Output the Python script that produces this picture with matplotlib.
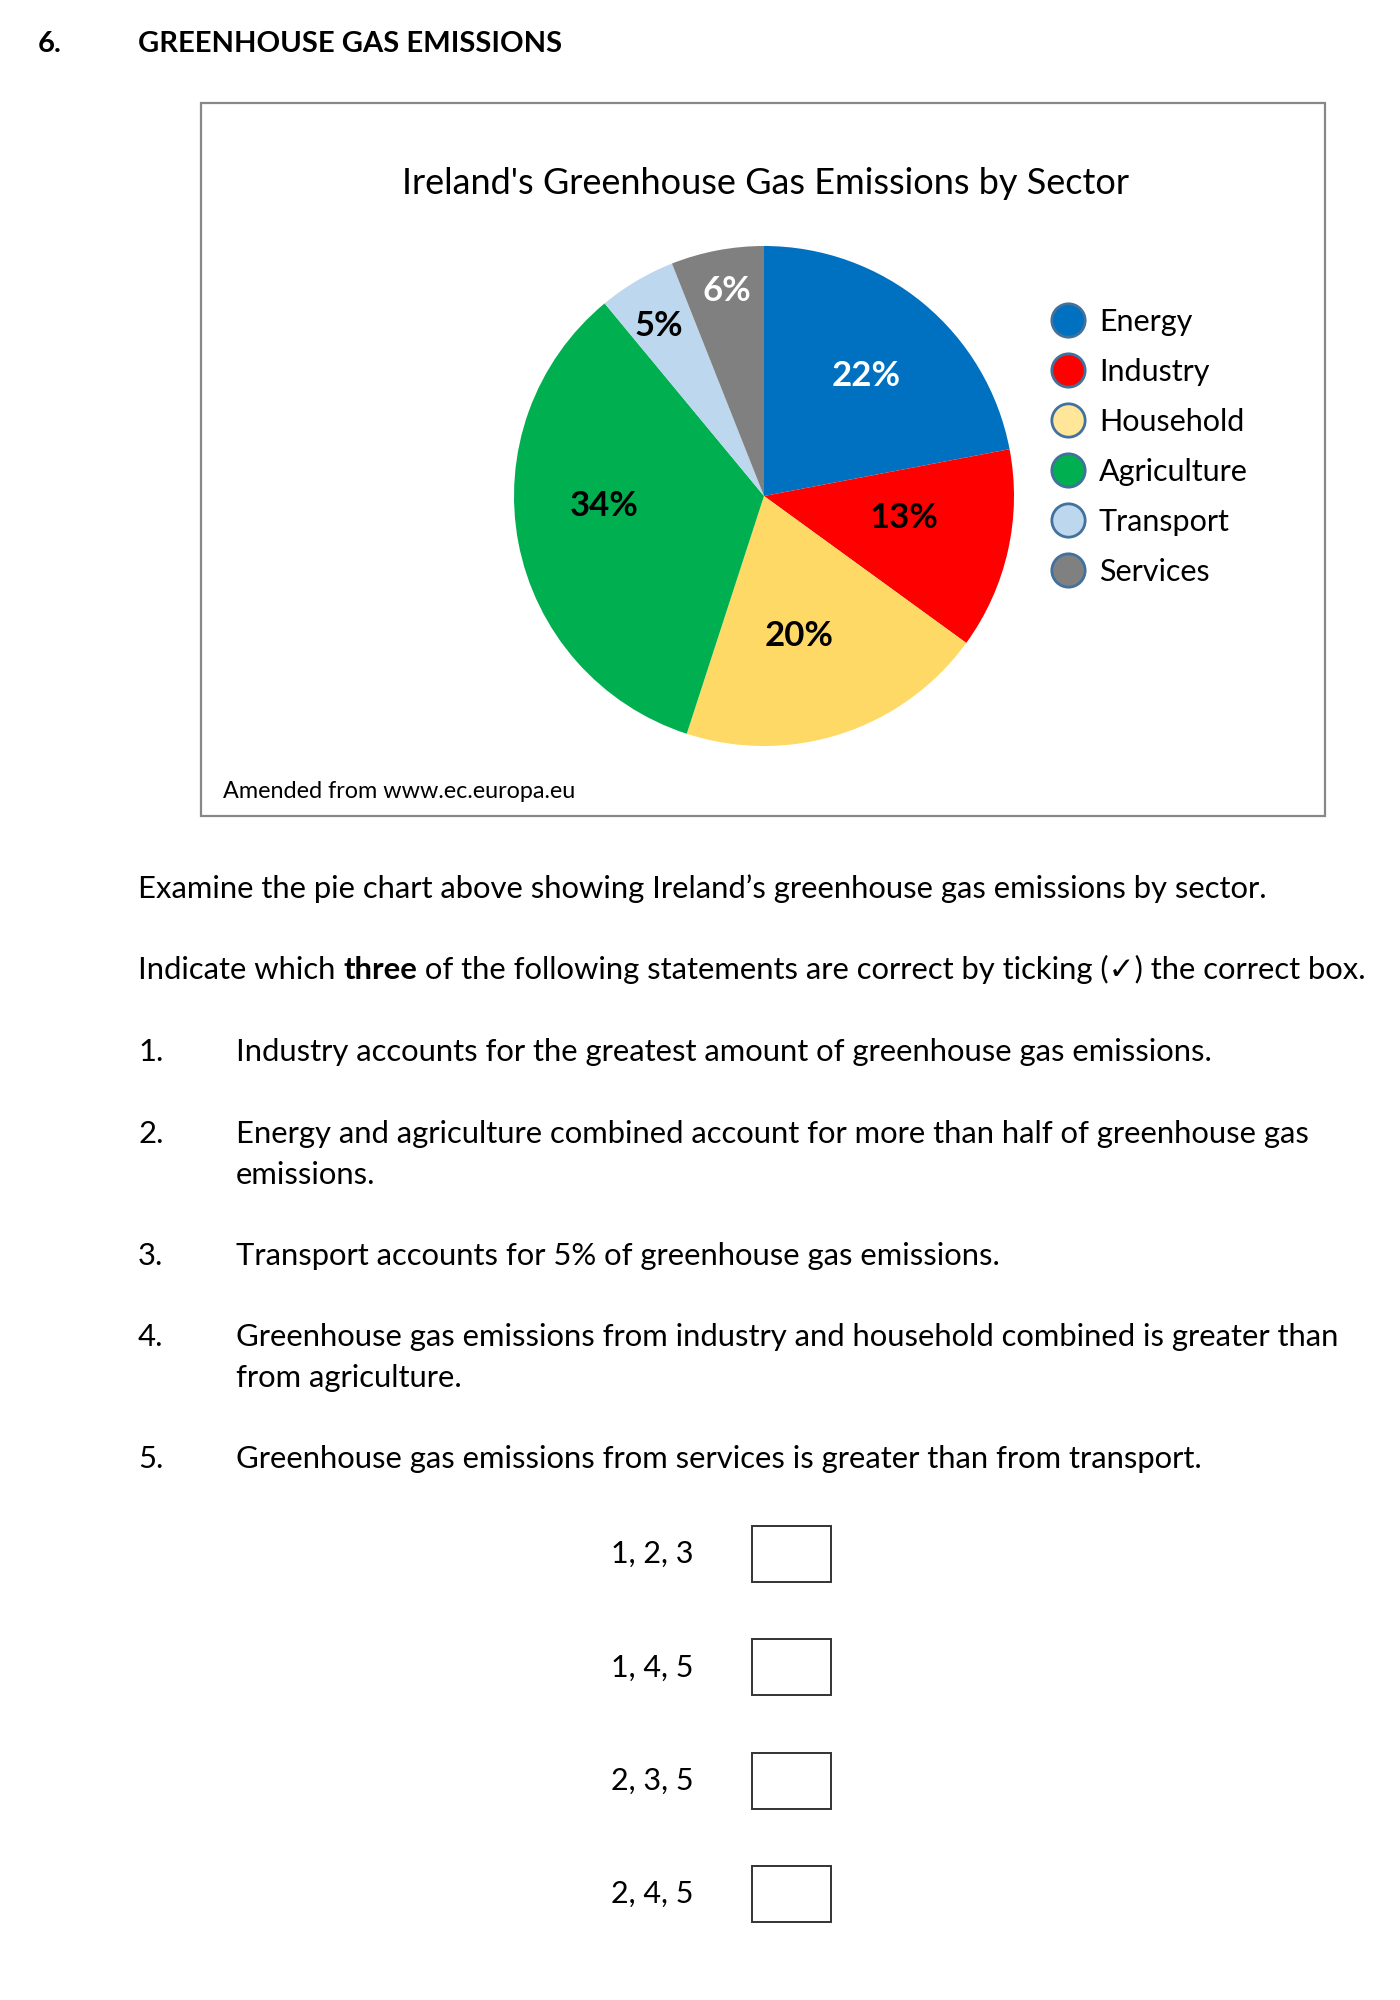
import matplotlib
matplotlib.use("Agg")
import matplotlib.pyplot as plt
from matplotlib.patches import Rectangle
from matplotlib.lines import Line2D

plt.rcParams['font.family'] = ['Lato', 'DejaVu Sans']

# Datos del grafico
sectores = ["Energy", "Industry", "Household", "Agriculture", "Transport", "Services"]
porcentajes = [22, 13, 20, 34, 5, 6]
colores = ["#0070C0", "#FF0000", "#FFD966", "#00B050", "#BDD7EE", "#808080"]
colores_leyenda = ["#0070C0", "#FF0000", "#FFE699", "#00B050", "#BDD7EE", "#808080"]
color_etiqueta = ["white", "black", "black", "black", "black", "white"]
# posicion de cada etiqueta dentro del pie (coordenadas del eje)
pos_etiqueta = [(0.41, 0.48), (0.56, -0.09), (0.14, -0.56), (-0.64, -0.04), (-0.42, 0.68), (-0.15, 0.82)]

enunciados = [
    ("1.", ["Industry accounts for the greatest amount of greenhouse gas emissions."]),
    ("2.", ["Energy and agriculture combined account for more than half of greenhouse gas", "emissions."]),
    ("3.", ["Transport accounts for 5% of greenhouse gas emissions."]),
    ("4.", ["Greenhouse gas emissions from industry and household combined is greater than", "from agriculture."]),
    ("5.", ["Greenhouse gas emissions from services is greater than from transport."]),
]
opciones = ["1, 2, 3", "1, 4, 5", "2, 3, 5", "2, 4, 5"]

W, H = 1400, 2000
fig = plt.figure(figsize=(W/100, H/100), dpi=100)

# Eje de fondo en pixeles para textos y cajas
fondo = fig.add_axes([0, 0, 1, 1])
fondo.set_xlim(0, W)
fondo.set_ylim(H, 0)
fondo.axis('off')

fondo.text(38, 44, "6.", fontsize=21, fontweight='bold', va='center')
fondo.text(138, 44, "GREENHOUSE GAS EMISSIONS", fontsize=21, fontweight='bold', va='center')

# Marco del grafico
fondo.add_patch(Rectangle((201, 103), 1124, 713, fill=False, edgecolor='#888888', linewidth=1.6))
fondo.text(765, 184, "Ireland's Greenhouse Gas Emissions by Sector", fontsize=26, ha='center', va='center')
fondo.text(223, 792, "Amended from www.ec.europa.eu", fontsize=16.8, va='center')

# Pie
cx, cy, r = 764, 496, 250
ax = fig.add_axes([(cx - r)/W, 1 - (cy + r)/H, 2*r/W, 2*r/H])
ax.pie(porcentajes, colors=colores, startangle=90, counterclock=False, radius=1,
       wedgeprops=dict(linewidth=0))
ax.set_xlim(-1, 1)
ax.set_ylim(-1, 1)
ax.set_aspect('equal')
ax.axis('off')
for i in range(len(porcentajes)):
    ax.text(pos_etiqueta[i][0], pos_etiqueta[i][1], str(porcentajes[i]) + "%", fontsize=25,
            fontweight='bold', color=color_etiqueta[i], ha='center', va='center')

# Leyenda
handles = [Line2D([], [], linestyle='none', marker='o', markersize=24, markerfacecolor=c,
                  markeredgecolor='#41719C', markeredgewidth=2) for c in colores_leyenda]
fig.legend(handles, sectores, loc='upper left', bbox_to_anchor=(1053/W, 1 - 308/H),
           frameon=False, fontsize=22, borderpad=0, borderaxespad=0, handlelength=1,
           handletextpad=0.5, labelspacing=0.72)

# Texto de la pregunta
fs = 22.3
fondo.text(138, 889, "Examine the pie chart above showing Ireland\u2019s greenhouse gas emissions by sector.",
           fontsize=fs, va='center')
t1 = fondo.text(138, 970, "Indicate which ", fontsize=fs, va='center')
t2 = fondo.annotate("three", xy=(1, 0), xycoords=t1, fontsize=fs, fontweight='bold', va='bottom')
fondo.annotate(" of the following statements are correct by ticking (\u2713) the correct box.",
               xy=(1, 0), xycoords=t2, fontsize=fs, va='bottom')

y_enun = [1052, 1134, 1256, 1337, 1459]
for i in range(len(enunciados)):
    num, lineas = enunciados[i]
    fondo.text(138, y_enun[i], num, fontsize=fs, va='center')
    for j in range(len(lineas)):
        fondo.text(236, y_enun[i] + 41*j, lineas[j], fontsize=fs, va='center')

# Opciones con cajas
for i in range(len(opciones)):
    y = 1554 + 113.3*i
    fondo.text(611, y, opciones[i], fontsize=22, va='center')
    fondo.add_patch(Rectangle((752, y - 28), 79, 56, fill=False, edgecolor='#333333', linewidth=1.4))

plt.savefig('out.png', dpi=100)
